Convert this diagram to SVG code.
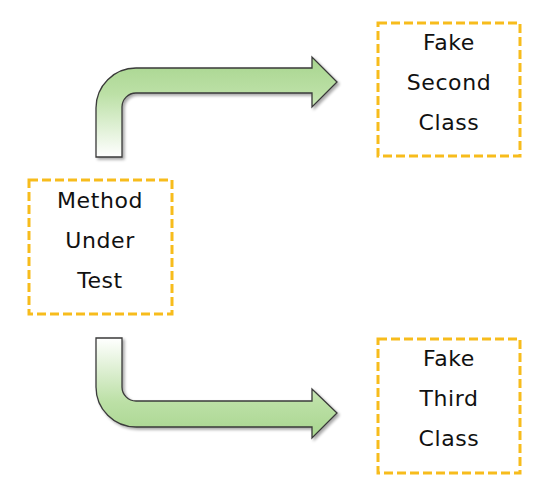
<svg xmlns="http://www.w3.org/2000/svg" width="549" height="486" viewBox="0 0 549 486">
<style>
.box{fill:#ffffff;stroke:#F7BC1C;stroke-width:3;stroke-dasharray:9 4}
.lbl{font-family:"Comic Sans MS","DejaVu Sans",sans-serif;font-size:22px;fill:#111;text-anchor:middle;letter-spacing:0.6px}
.arrow{stroke:#3a3a3a;stroke-width:1.3;filter:url(#sh)}
</style>
<defs>
<linearGradient id="gTop" gradientUnits="userSpaceOnUse" x1="0" y1="60" x2="0" y2="157">
<stop offset="0" stop-color="#A9D690"/>
<stop offset="0.35" stop-color="#BCE0A6"/>
<stop offset="1" stop-color="#FFFFFF"/>
</linearGradient>
<linearGradient id="gBot" gradientUnits="userSpaceOnUse" x1="0" y1="338" x2="0" y2="436">
<stop offset="0" stop-color="#FFFFFF"/>
<stop offset="0.65" stop-color="#BCE0A6"/>
<stop offset="1" stop-color="#A9D690"/>
</linearGradient>
<filter id="sh" x="-10%" y="-10%" width="130%" height="130%">
<feGaussianBlur in="SourceAlpha" stdDeviation="1.5"/>
<feOffset dx="2" dy="2" result="b"/>
<feComponentTransfer><feFuncA type="linear" slope="0.35"/></feComponentTransfer>
<feMerge><feMergeNode/><feMergeNode in="SourceGraphic"/></feMerge>
</filter>
</defs>
<rect width="549" height="486" fill="#ffffff"/>
<g id="connectors">
<path class="arrow" fill="url(#gTop)" d="M96,157 L96,108 A40,40 0 0 1 136,68 L312,68 L312,57 L337,82 L312,107 L312,93 L136,93 A14,14 0 0 0 122,107 L122,157 Z"/>
<path class="arrow" fill="url(#gBot)" d="M96,338 L122,338 L122,387 A14,14 0 0 0 136,401 L312,401 L312,389 L337,413 L312,438 L312,427 L136,427 A40,40 0 0 1 96,387 Z"/>
</g>
<g id="method">
<rect class="box" x="29" y="180" width="143" height="134"/>
<text class="lbl" x="100" y="208">Method</text>
<text class="lbl" x="100" y="248">Under</text>
<text class="lbl" x="100" y="288">Test</text>
</g>
<g id="second">
<rect class="box" x="378" y="23" width="142" height="133"/>
<text class="lbl" x="449" y="50">Fake</text>
<text class="lbl" x="449" y="90">Second</text>
<text class="lbl" x="449" y="130">Class</text>
</g>
<g id="third">
<rect class="box" x="378" y="339" width="142" height="134"/>
<text class="lbl" x="449" y="366">Fake</text>
<text class="lbl" x="449" y="406">Third</text>
<text class="lbl" x="449" y="446">Class</text>
</g>
</svg>
